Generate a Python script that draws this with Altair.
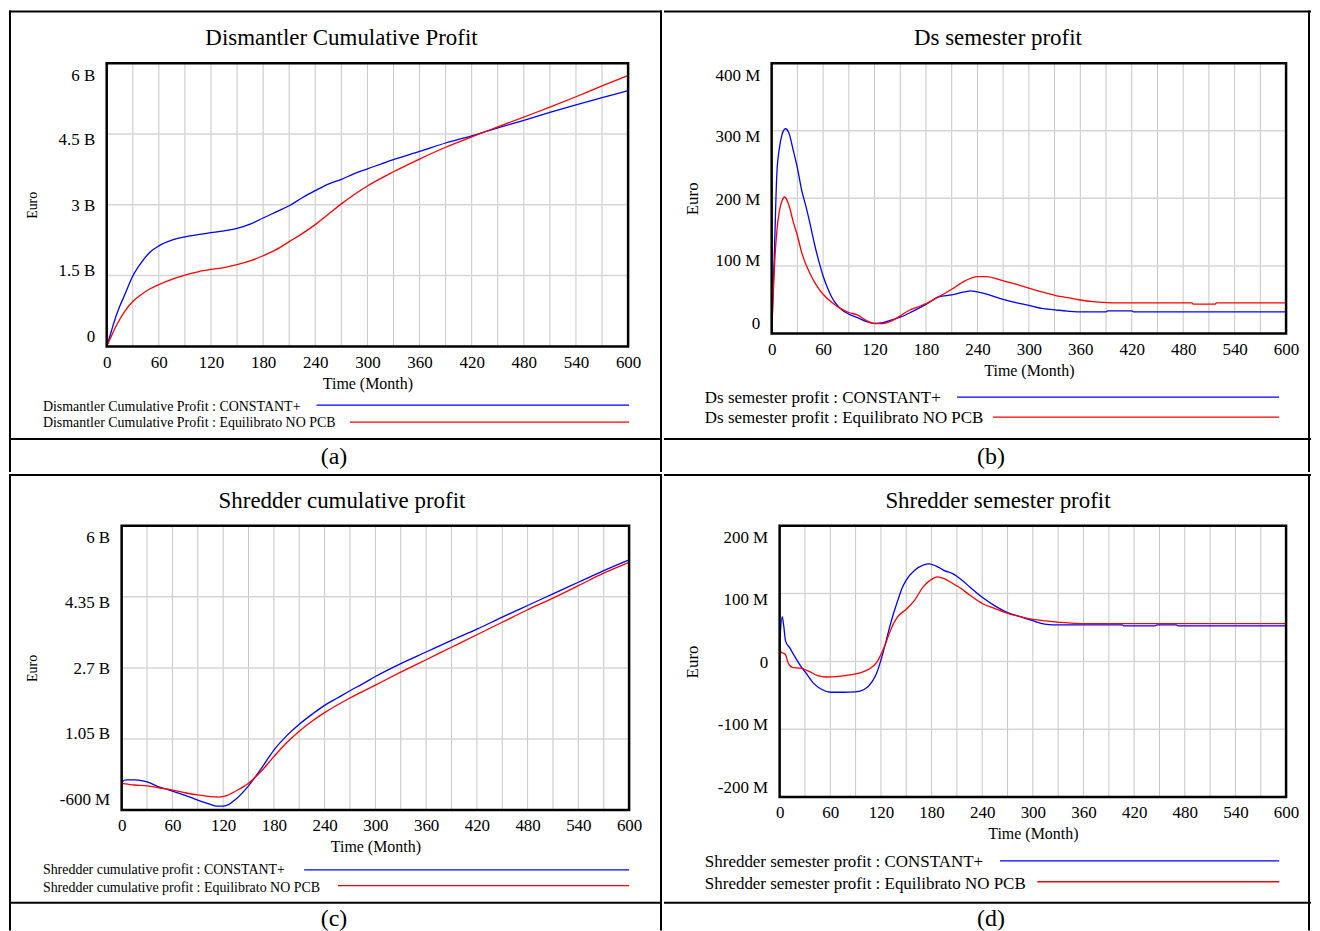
import altair as alt
import pandas as pd

FONT = "Liberation Serif"
BLUE = "#0000ff"
RED = "#ff0000"
SERIES = ["CONSTANT+", "Equilibrato NO PCB"]
X_TICKS = [0, 60, 120, 180, 240, 300, 360, 420, 480, 540, 600]
X_GRID = [30, 60, 90, 120, 150, 180, 210, 240, 270, 300, 330, 360, 390, 420, 450, 480, 510, 540, 570]

# ---------------- (a) Dismantler Cumulative Profit (billion Euro) ----------------
A_T_BLUE = [0, 5, 10, 15, 20, 30, 40, 50, 60, 75, 90, 105, 120, 135, 150, 165, 180, 195, 210, 225,
            240, 255, 270, 285, 300, 330, 360, 390, 420, 450, 480, 510, 540, 570, 600]
A_V_BLUE = [0, 0.3, 0.6, 0.85, 1.06, 1.49, 1.78, 2.0, 2.13, 2.25, 2.32, 2.37, 2.41, 2.45, 2.5, 2.59, 2.72, 2.85, 2.98, 3.15,
            3.3, 3.44, 3.54, 3.66, 3.76, 3.96, 4.13, 4.31, 4.46, 4.63, 4.79, 4.96, 5.12, 5.27, 5.42]
A_T_RED = [0, 5, 10, 15, 20, 30, 40, 50, 60, 75, 90, 105, 120, 135, 150, 165, 180, 195, 210, 225,
           240, 255, 270, 285, 300, 330, 360, 390, 420, 450, 480, 510, 540, 570, 600]
A_V_RED = [0, 0.2, 0.4, 0.57, 0.72, 0.95, 1.1, 1.22, 1.31, 1.42, 1.51, 1.58, 1.63, 1.67, 1.73, 1.81, 1.92, 2.05, 2.22, 2.39,
           2.58, 2.8, 3.02, 3.22, 3.4, 3.7, 3.97, 4.22, 4.44, 4.65, 4.86, 5.07, 5.29, 5.52, 5.74]
A_Y_TICKS = [0, 1.5, 3, 4.5, 6]

# ---------------- (b) Ds semester profit (million Euro) ----------------
B_T_BLUE = [0, 3, 6, 9, 12, 16, 20, 25, 30, 35, 40, 45, 50, 55, 60, 65, 70, 75, 80, 90, 100, 110, 120, 130,
            140, 150, 165, 180, 195, 210, 225, 232, 240, 255, 270, 285, 300, 315, 330, 345, 356, 390, 392,
            420, 422, 600]
B_V_BLUE = [0, 112, 235, 274, 294, 303, 297, 272, 245, 212, 188, 161, 132, 107, 85, 68, 54, 44, 37, 28.5, 23.5, 18, 15, 16,
            20, 24, 33, 43, 54, 57, 61.5, 63, 61.5, 56.5, 50.5, 45.5, 41.5, 37, 35, 33, 32, 32, 33.5,
            33.5, 32, 32]
B_T_RED = [0, 3, 6, 9, 12, 15, 18, 21, 25, 30, 35, 40, 45, 50, 55, 60, 70, 80, 90, 100, 110, 120, 130, 140,
           150, 160, 170, 180, 195, 210, 225, 240, 250, 270, 285, 300, 315, 330, 345, 360, 375, 396, 490,
           492, 517, 519, 600]
B_V_RED = [0, 92, 151, 181, 196, 202, 197, 186, 166, 145, 120, 102, 88, 76, 66, 58, 46, 37, 31, 27.5, 19.5, 14.5, 14.5, 18.5,
           26, 34, 39, 44, 54.5, 65.5, 77.5, 84, 84, 78, 73, 67, 61.5, 56.5, 53, 49.5, 47, 45.3, 45.3,
           43.3, 43.3, 45.3, 45.3]
B_Y_TICKS = [0, 100, 200, 300, 400]

# ---------------- (c) Shredder cumulative profit (billion Euro) ----------------
C_T_BLUE = [0, 3, 6, 15, 25, 30, 45, 60, 75, 90, 105, 112, 120, 127, 135, 150, 165, 180, 195, 210, 225, 240,
            255, 270, 285, 300, 330, 360, 390, 420, 450, 480, 510, 540, 570, 600]
C_V_BLUE = [0.03, 0.09, 0.1, 0.1, 0.075, 0.05, -0.07, -0.16, -0.26, -0.37, -0.47, -0.51, -0.51, -0.47, -0.35, -0.04,
            0.36, 0.79, 1.12, 1.39, 1.62, 1.83, 2.0, 2.17, 2.33, 2.5, 2.8, 3.07, 3.34, 3.6, 3.88, 4.15, 4.42, 4.69,
            4.96, 5.21]
C_T_RED = [0, 15, 30, 45, 60, 75, 90, 105, 115, 125, 135, 150, 165, 180, 195, 210, 225, 240, 270, 300, 330, 360,
           390, 420, 450, 480, 510, 540, 570, 600]
C_V_RED = [0.02, -0.02, -0.04, -0.09, -0.14, -0.2, -0.25, -0.29, -0.3, -0.26, -0.16, 0.02, 0.3, 0.64, 0.96, 1.23,
           1.46, 1.66, 2.0, 2.3, 2.6, 2.89, 3.18, 3.47, 3.76, 4.05, 4.32, 4.61, 4.9, 5.15]
C_Y_TICKS = [-0.6, 1.05, 2.7, 4.35, 6]

# ---------------- (d) Shredder semester profit (million Euro) ----------------
D_T_BLUE = [0, 3, 5, 7, 12, 18, 25, 30, 40, 50, 60, 75, 90, 100, 110, 115, 120, 125, 130, 135, 140, 145, 150,
            160, 170, 177, 185, 195, 205, 215, 225, 240, 255, 270, 285, 300, 314, 324, 406, 408, 445, 447,
            470, 472, 600]
D_V_BLUE = [22, 66, 51, 30, 20, 7, -7, -15, -32, -41.5, -45.5, -45.5, -45, -41.5, -29, -17, 2, 24.5, 49, 71, 90, 108,
            120, 134.5, 142, 144, 141, 134, 129.5, 121, 110, 94.5, 82, 72, 66, 60, 55, 53.8, 53.8, 52.3, 52.3, 54,
            54, 52.3, 52.3]
D_T_RED = [0, 2, 5, 7, 10, 15, 25, 35, 45, 55, 70, 85, 95, 105, 115, 120, 125, 130, 135, 140, 150, 160, 170,
           180, 187, 195, 205, 215, 225, 240, 255, 270, 285, 300, 315, 332, 361, 600]
D_V_RED = [23, 13, 12, 10, -2, -8.8, -10, -14.7, -21, -23, -22, -19.5, -17, -12, -1.5, 10, 24.5, 41.5, 56, 66, 77,
           90.5, 110, 121, 124.7, 122, 115, 107.5, 98, 85.5, 78, 71, 66, 62, 59.7, 57.7, 55.7, 55.7]
D_Y_TICKS = [-200, -100, 0, 100, 200]

Y_LABEL_OFFSETS = [-10, -5, 1, 6, 12]  # Vensim-style label placement (bottom -> top)


def series_frame(tb, vb, tr, vr):
    return pd.concat([
        pd.DataFrame({"t": tb, "v": vb, "s": SERIES[0]}),
        pd.DataFrame({"t": tr, "v": vr, "s": SERIES[1]}),
    ], ignore_index=True)


def cell(W, H, title, title_xy, data, yticks, label_expr, plot_x, plot_y, euro_x, euro_size,
         legend_texts, legend_size, legend_x, legend_ys, legend_lines, borders, tag, tag_xy):
    ymin, ymax = yticks[0], yticks[-1]
    xs = alt.Scale(domain=[0, 600], range=list(plot_x), nice=False, zero=False)
    ys = alt.Scale(domain=[ymin, ymax], range=[plot_y[1], plot_y[0]], nice=False, zero=False)
    xax = alt.Axis(values=X_TICKS, grid=False, domain=False, ticks=False, labelFont=FONT, labelFontSize=17,
                   labelColor="black", labelPadding=8, labelFlush=False, labelOverlap=False,
                   offset=plot_y[1] - H, title="Time (Month)", titleFont=FONT, titleFontSize=16,
                   titleFontWeight="normal", titleColor="black", titleY=37, titleBaseline="middle")
    conds = [{"test": f"datum.value == {v}", "value": o} for v, o in zip(yticks, Y_LABEL_OFFSETS)]
    yax = alt.Axis(values=yticks, labelExpr=label_expr, grid=False, domain=False, ticks=False, labelFont=FONT,
                   labelFontSize=17, labelColor="black", labelPadding=12, labelFlush=False, labelOverlap=False,
                   labelBaseline="middle", labelOffset={"condition": conds, "value": 0},
                   offset=-plot_x[0], title="Euro", titleFont=FONT, titleFontSize=euro_size,
                   titleFontWeight="normal", titleColor="black", titleX=euro_x - plot_x[0],
                   titleAngle=270, titleAlign="center", titleBaseline="middle")

    vgrid = pd.DataFrame({"t": X_GRID, "lo": ymin, "hi": ymax})
    hgrid = pd.DataFrame({"v": yticks[1:-1], "a": 0, "b": 600})
    frame = pd.DataFrame({"a": [0], "b": [600], "lo": [ymin], "hi": [ymax]})
    one = pd.DataFrame({"k": [0]})

    layers = []
    layers.append(alt.Chart(vgrid).mark_rule(color="#c6c6c6", strokeWidth=1).encode(
        x=alt.X("t:Q", scale=xs, axis=xax), y=alt.Y("lo:Q", scale=ys, axis=yax), y2="hi:Q"))
    layers.append(alt.Chart(hgrid).mark_rule(color="#d6d6d6", strokeWidth=1.5).encode(
        x=alt.X("a:Q", scale=xs, axis=xax), x2="b:Q", y=alt.Y("v:Q", scale=ys, axis=yax)))
    layers.append(alt.Chart(data).mark_line(strokeWidth=1.3, interpolate="monotone").encode(
        x=alt.X("t:Q", scale=xs, axis=xax), y=alt.Y("v:Q", scale=ys, axis=yax),
        color=alt.Color("s:N", scale=alt.Scale(domain=SERIES, range=[BLUE, RED]), legend=None),
        detail="s:N"))
    layers.append(alt.Chart(frame).mark_rect(fill="transparent", stroke="black", strokeWidth=2.5).encode(
        x=alt.X("a:Q", scale=xs, axis=xax), x2="b:Q", y=alt.Y("lo:Q", scale=ys, axis=yax), y2="hi:Q"))

    # panel title
    layers.append(alt.Chart(one).mark_text(text=title, font=FONT, fontSize=23, color="black", align="center",
                                           baseline="middle").encode(x=alt.value(title_xy[0]), y=alt.value(title_xy[1])))
    # legend (Vensim style: label, then a line)
    for txt, ly in zip(legend_texts, legend_ys):
        layers.append(alt.Chart(one).mark_text(text=txt, font=FONT, fontSize=legend_size, color="black",
                                               align="left", baseline="middle").encode(
            x=alt.value(legend_x), y=alt.value(ly)))
    for (x1, x2, ly), col in zip(legend_lines, [BLUE, RED]):
        layers.append(alt.Chart(one).mark_rule(color=col, strokeWidth=1.3).encode(
            x=alt.value(x1), x2=alt.value(x2), y=alt.value(ly)))
    # table borders
    for b in borders:
        if b[0] == "v":
            layers.append(alt.Chart(one).mark_rule(color="black", strokeWidth=2).encode(
                x=alt.value(b[1]), y=alt.value(0), y2=alt.value(H)))
        else:
            layers.append(alt.Chart(one).mark_rule(color="black", strokeWidth=2).encode(
                x=alt.value(0), x2=alt.value(W), y=alt.value(b[1])))
    # sub-figure tag (alphabetic baseline given)
    layers.append(alt.Chart(one).mark_text(text=tag, font=FONT, fontSize=24, color="black", align="center",
                                           baseline="alphabetic").encode(x=alt.value(tag_xy[0]), y=alt.value(tag_xy[1])))
    return alt.layer(*layers).properties(width=W, height=H)


panel_a = cell(655, 463, "Dismantler Cumulative Profit", (333.5, 28),
               series_frame(A_T_BLUE, A_V_BLUE, A_T_RED, A_V_RED), A_Y_TICKS,
               "datum.value == 0 ? '0' : datum.value + ' B'", (98, 621), (53, 337), 23.6, 14,
               ["Dismantler Cumulative Profit : CONSTANT+", "Dismantler Cumulative Profit : Equilibrato NO PCB"],
               14, 34, (397.7, 414), [(308.5, 622, 396), (342, 622, 413)],
               [("v", 1), ("v", 654), ("h", 1), ("h", 430)], "(a)", (326, 455))

panel_b = cell(649, 463, "Ds semester profit", (335, 28),
               series_frame(B_T_BLUE, B_V_BLUE, B_T_RED, B_V_RED), B_Y_TICKS,
               "datum.value == 0 ? '0' : datum.value + ' M'", (108, 624), (53, 324), 28.6, 17,
               ["Ds semester profit : CONSTANT+", "Ds semester profit : Equilibrato NO PCB"],
               17, 41, (389, 409), [(294, 617, 388), (330, 617, 408)],
               [("v", 647), ("h", 1), ("h", 430)], "(b)", (328, 455))

panel_c = cell(655, 458, "Shredder cumulative profit", (334, 27),
               series_frame(C_T_BLUE, C_V_BLUE, C_T_RED, C_V_RED), C_Y_TICKS,
               "datum.value < 0 ? (datum.value * 1000) + ' M' : datum.value + ' B'", (113, 622), (52, 337),
               23.6, 14,
               ["Shredder cumulative profit : CONSTANT+", "Shredder cumulative profit : Equilibrato NO PCB"],
               14, 34, (397, 415), [(296, 622, 397), (330, 622, 413)],
               [("v", 1), ("v", 654), ("h", 1), ("h", 430)], "(c)", (326, 453))

panel_d = cell(649, 458, "Shredder semester profit", (335, 27),
               series_frame(D_T_BLUE, D_V_BLUE, D_T_RED, D_V_RED), D_Y_TICKS,
               "datum.value == 0 ? '0' : datum.value + ' M'", (116, 624), (52, 324), 28.6, 17,
               ["Shredder semester profit : CONSTANT+", "Shredder semester profit : Equilibrato NO PCB"],
               17, 41, (389, 411), [(337, 617, 388), (374.5, 617, 409)],
               [("v", 647), ("h", 1), ("h", 430)], "(d)", (328, 453))

chart = alt.vconcat(
    alt.hconcat(panel_a, panel_b, spacing=0),
    alt.hconcat(panel_c, panel_d, spacing=0),
    spacing=0,
).properties(padding=0, background="white").configure_view(stroke=None)

chart.save("out.html", embed_options={"renderer": "svg", "actions": False})
